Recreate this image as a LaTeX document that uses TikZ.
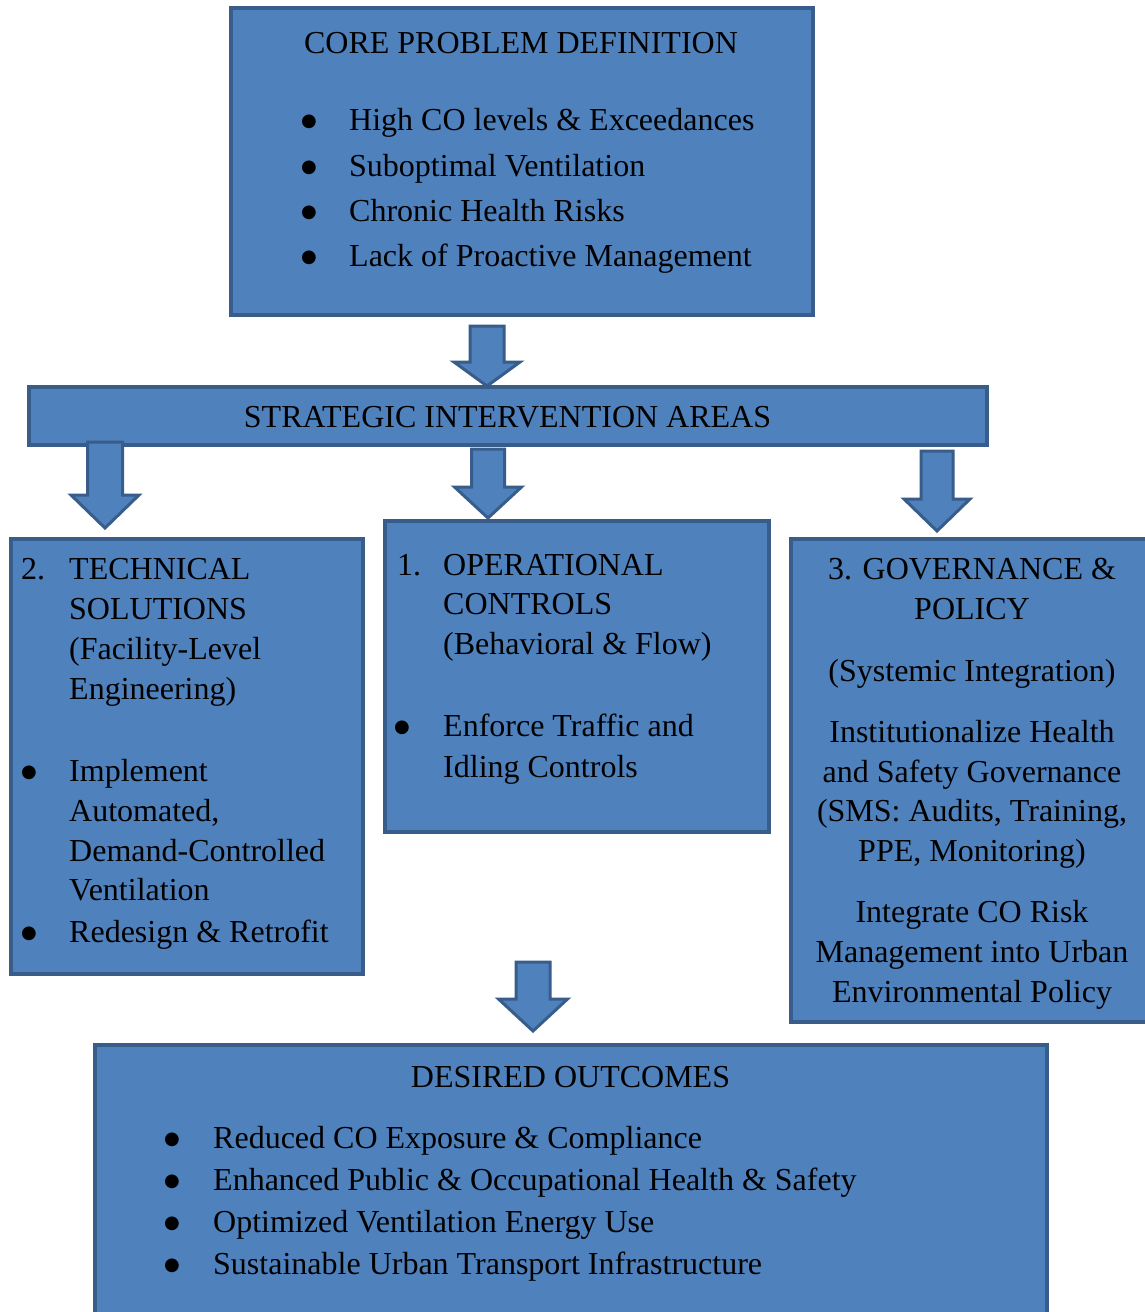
\documentclass[tikz,border=0pt]{standalone}
\usepackage{fontspec}
\setmainfont{Liberation Serif}
\newfontfamily\symfont{DejaVu Sans}
\definecolor{boxfill}{HTML}{4F81BD}
\definecolor{boxline}{HTML}{385D8A}
\tikzset{
  box/.style={draw=boxline, fill=boxfill, line width=3.5pt, rectangle, inner sep=0pt},
  arr/.style={draw=boxline, fill=boxfill, line width=3pt, line join=miter},
  txt/.style={inner sep=0pt, font=\fontsize{32}{38}\selectfont, anchor=base west},
  ctxt/.style={txt, anchor=base},
  bul/.style={inner sep=0pt, font=\symfont\fontsize{18}{18}\selectfont, anchor=base},
}
\newcommand\blockarr[6]{%
  \draw[arr] ({#1-#5},#2) -- ({#1+#5},#2) -- ({#1+#5},#3) -- ({#1+#6},#3) -- (#1,#4) -- ({#1-#6},#3) -- ({#1-#5},#3) -- cycle;}
\newcommand\bigbul{\raisebox{3.5pt}{●}}
\begin{document}
\begin{tikzpicture}[x=1pt, y=-1pt]
\clip (0,0) rectangle (1145,1312);
\fill[white] (0,0) rectangle (1145,1312);

% boxes
\node[box, minimum width=582pt, minimum height=307pt] (core) at (522,161.5) {};
\node[box, minimum width=958pt, minimum height=58pt] (strat) at (508,416) {};
\node[box, minimum width=352pt, minimum height=435pt] (tech) at (187,756.5) {};
\node[box, minimum width=384pt, minimum height=311pt] (oper) at (577,676.5) {};
\node[box, minimum width=370pt, minimum height=483pt] (gov) at (976,780.5) {};
\node[box, minimum width=952pt, minimum height=290pt] (out) at (571,1190) {};

% block arrows
\blockarr{487}{326}{362}{386}{17}{33}
\blockarr{105}{442}{495}{528}{17.5}{34}
\blockarr{488}{449}{487}{518}{16.5}{33.5}
\blockarr{937}{451}{499}{531}{16}{33}
\blockarr{533}{962}{999}{1031}{17}{34.5}

% core problem
\node[ctxt] (coreT) at (521,53) {CORE PROBLEM DEFINITION};
\node[bul] (cb1) at (309,130) {\bigbul};
\node[bul] (cb2) at (309,176) {\bigbul};
\node[bul] (cb3) at (309,221) {\bigbul};
\node[bul] (cb4) at (309,266) {\bigbul};
\node[txt] (c1) at (349,130) {High CO levels \& Exceedances};
\node[txt] (c2) at (349,176) {Suboptimal Ventilation};
\node[txt] (c3) at (349,221) {Chronic Health Risks};
\node[txt] (c4) at (349,266) {Lack of Proactive Management};

% strategic
\node[ctxt] (stratT) at (507.5,427) {STRATEGIC INTERVENTION AREAS};

% technical
\node[txt] (tn) at (21,579) {2.};
\node[txt] (t1) at (69,579) {TECHNICAL};
\node[txt] (t2) at (69,619) {SOLUTIONS};
\node[txt] (t3) at (69,659) {(Facility-Level};
\node[txt] (t4) at (69,699) {Engineering)};
\node[bul] (tb1) at (29,781) {\bigbul};
\node[txt] (t5) at (69,781) {Implement};
\node[txt] (t6) at (69,821) {Automated,};
\node[txt] (t7) at (69,861) {Demand-Controlled};
\node[txt] (t8) at (69,900) {Ventilation};
\node[bul] (tb2) at (29,942) {\bigbul};
\node[txt] (t9) at (69,942) {Redesign \& Retrofit};

% operational
\node[txt] (on) at (397,575) {1.};
\node[txt] (o1) at (443,575) {OPERATIONAL};
\node[txt] (o2) at (443,614) {CONTROLS};
\node[txt] (o3) at (443,654) {(Behavioral \& Flow)};
\node[bul] (ob1) at (402,736) {\bigbul};
\node[txt] (o4) at (443,736) {Enforce Traffic and};
\node[txt] (o5) at (443,777) {Idling Controls};

% governance
\node[ctxt] (g1) at (972,579) {3. GOVERNANCE \&};
\node[ctxt] (g2) at (972,619) {POLICY};
\node[ctxt] (g3) at (972,681) {(Systemic Integration)};
\node[ctxt] (g4) at (972,742) {Institutionalize Health};
\node[ctxt] (g5) at (972,782) {and Safety Governance};
\node[ctxt] (g6) at (972,821) {(SMS: Audits, Training,};
\node[ctxt] (g7) at (972,861) {PPE, Monitoring)};
\node[ctxt] (g8) at (972,922) {Integrate CO Risk};
\node[ctxt] (g9) at (972,962) {Management into Urban};
\node[ctxt] (g10) at (972,1002) {Environmental Policy};

% outcomes
\node[ctxt] (outT) at (570.5,1087) {DESIRED OUTCOMES};
\node[bul] (db1) at (172,1148) {\bigbul};
\node[bul] (db2) at (172,1190) {\bigbul};
\node[bul] (db3) at (172,1232) {\bigbul};
\node[bul] (db4) at (172,1274) {\bigbul};
\node[txt] (d1) at (213,1148) {Reduced CO Exposure \& Compliance};
\node[txt] (d2) at (213,1190) {Enhanced Public \& Occupational Health \& Safety};
\node[txt] (d3) at (213,1232) {Optimized Ventilation Energy Use};
\node[txt] (d4) at (213,1274) {Sustainable Urban Transport Infrastructure};
\end{tikzpicture}
\end{document}
